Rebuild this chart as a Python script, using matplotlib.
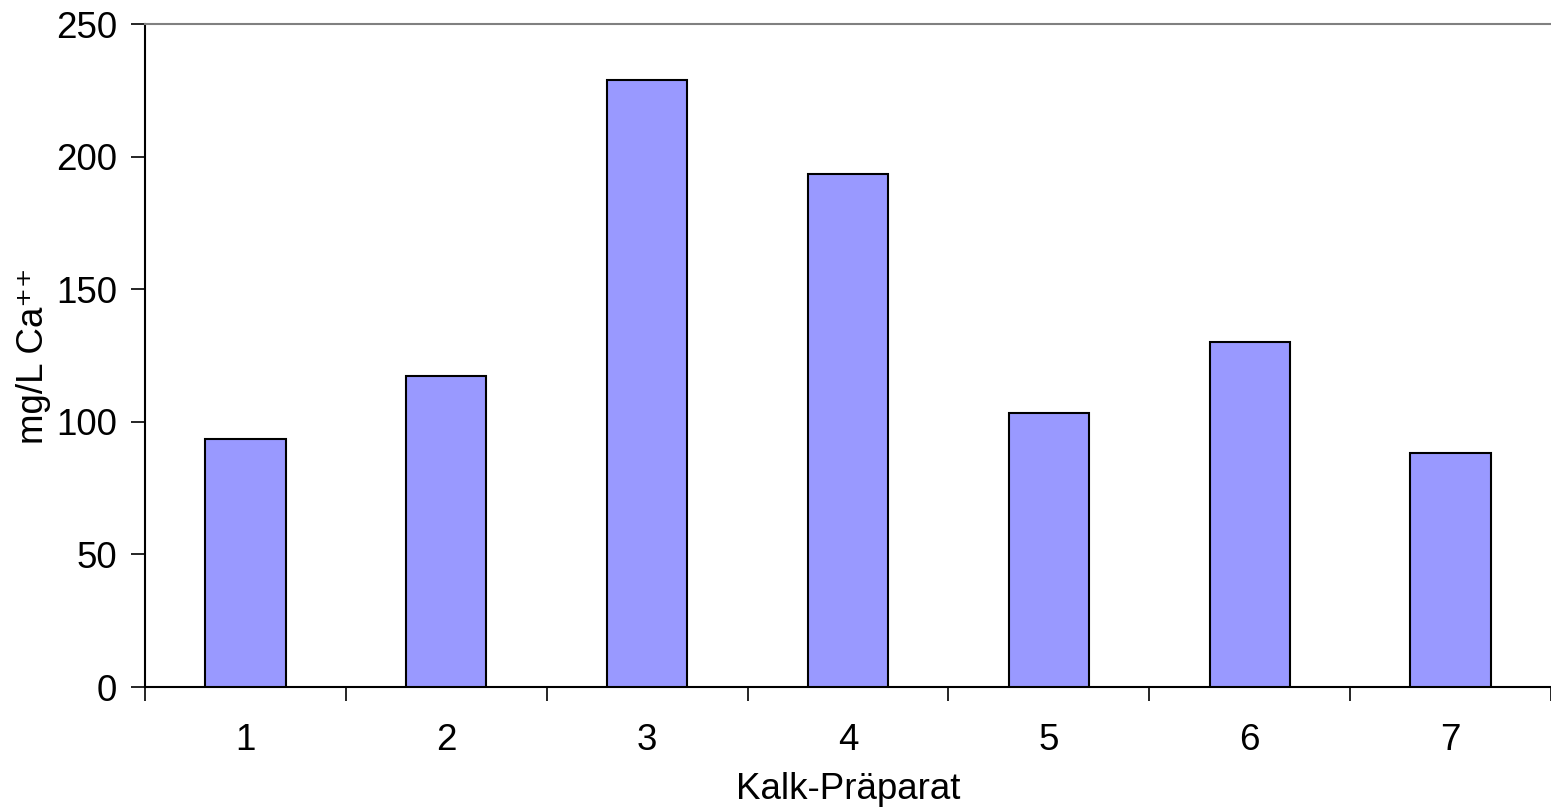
import numpy as np
import matplotlib.pyplot as plt
from matplotlib.ticker import FixedLocator

plt.rcParams['font.family'] = ['Liberation Sans', 'DejaVu Sans']

praeparate = [1, 2, 3, 4, 5, 6, 7]
calcium = [93.5, 117.3, 228.9, 193.4, 103.3, 130.1, 88.1]
y_ticks = [0, 50, 100, 150, 200, 250]

fig = plt.figure(figsize=(15.51, 8.09), dpi=100)
ax = fig.add_axes([0.0935, 0.1508, 0.9065, 0.8195])

ax.bar(praeparate, calcium, width=0.4, color="#9999ff",
       edgecolor="black", linewidth=1.5, zorder=3)

ax.set_xlim(0.5, 7.5)
ax.set_ylim(0, 250)
ax.set_yticks(y_ticks)
ax.set_xticks(praeparate)
ax.xaxis.set_minor_locator(FixedLocator(np.arange(0.5, 8.0, 1.0)))

ax.tick_params(axis="x", which="major", length=0, pad=26, labelsize=26.5)
ax.tick_params(axis="x", which="minor", length=10, width=1.2, direction="out")
ax.tick_params(axis="y", length=10, width=1.2, direction="out", pad=10, labelsize=26.5)

for side in ("left", "bottom"):
    ax.spines[side].set_linewidth(1.5)
ax.spines["right"].set_visible(False)
ax.spines["top"].set_color("#808080")
ax.spines["top"].set_linewidth(1.5)

ax.set_xlabel("Kalk-Präparat", fontsize=26.5, labelpad=10)
ax.set_ylabel("mg/L Ca\u207a\u207a", fontsize=26.5, labelpad=4)

fig.savefig("out.png", dpi=100)
